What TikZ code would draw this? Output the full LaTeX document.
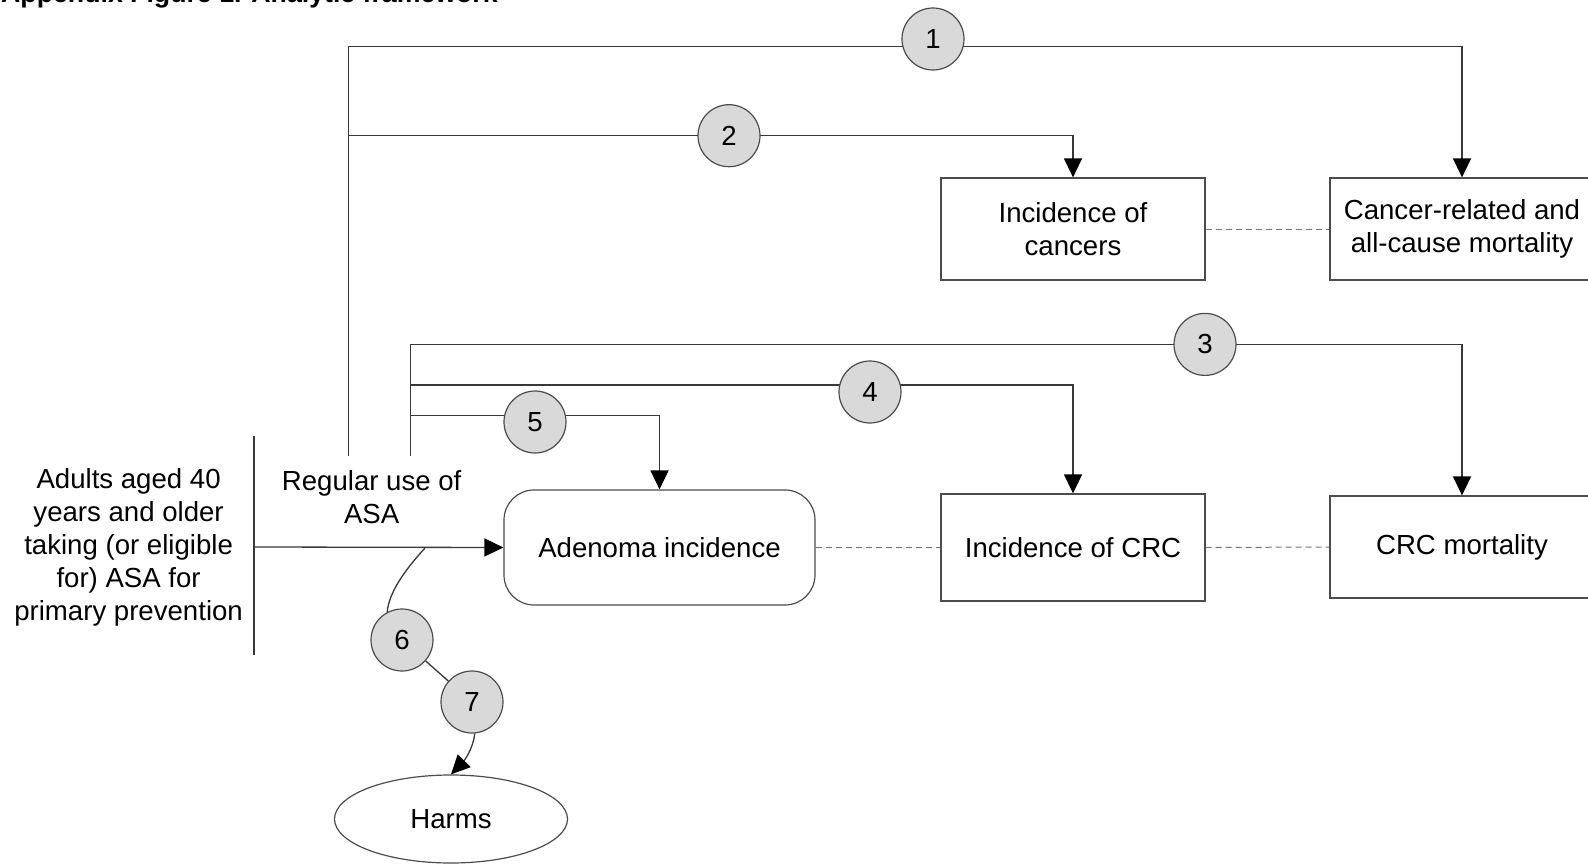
\documentclass[tikz,border=0pt]{standalone}
\usepackage{fontspec}
\setmainfont{Liberation Sans}
\usetikzlibrary{arrows.meta,shapes.geometric,backgrounds}
\begin{document}
\begin{tikzpicture}[x=1pt,y=-1pt,
  conn/.style={draw=black!78, line width=1.3pt},
  arr/.style={conn, -{Triangle[length=19pt,width=18pt,black]}},
  dashlink/.style={draw=black!55, line width=1pt, dash pattern=on 6pt off 4pt},
  txt/.style={font=\fontsize{27.6}{33}\selectfont, align=center, inner sep=0pt},
  box/.style={txt, draw=black!70, line width=1.2pt, minimum width=264pt, minimum height=102pt},
  num/.style={circle, draw=black!70, fill=black!15, line width=1.2pt, minimum size=62pt, inner sep=0pt, font=\fontsize{27.6}{33}\selectfont}
]
\useasboundingbox (0,0) rectangle (1588,864);
\clip (0,0) rectangle (1588,864);

% title (cut off at the top edge, as in the source)
\node[anchor=base west, inner sep=0pt, font=\fontsize{26.7}{30}\selectfont\bfseries] (title) at (1,3) {Appendix Figure 1. Analytic framework};

% boxes
\node[box] (inc) at (1073,229) {Incidence of\\cancers};
\node[box] (mort) at (1462,229) {Cancer-related and\\all-cause mortality};
\node[box, minimum height=107pt] (crc) at (1073,547.5) {Incidence of CRC};
\node[box] (crcm) at (1462,547) {CRC mortality};
\node[txt, draw=black!70, line width=1.2pt, rounded corners=30pt, minimum width=311pt, minimum height=115pt] (aden) at (659.5,547.5) {Adenoma incidence};
\node[txt, ellipse, draw=black!70, line width=1.2pt, minimum width=233pt, minimum height=88pt] (harms) at (451,819) {Harms};

% left texts
\node[txt] (pop) at (128.6,547) {Adults aged 40\\years and older\\taking (or eligible\\for) ASA for\\primary prevention};
\node[txt] (asa) at (371.7,497) {Regular use of\\ASA};

% numbered circles
\node[num] (c1) at (933,39) {1};
\node[num] (c2) at (729,135.7) {2};
\node[num] (c3) at (1205,344.4) {3};
\node[num] (c4) at (870,392) {4};
\node[num] (c5) at (535,422) {5};
\node[num] (c6) at (402,640) {6};
\node[num] (c7) at (472,702) {7};

% junction coordinates
\coordinate (barTop) at (254,435.5);
\coordinate (barBot) at (254,655.3);
\coordinate (barMid) at (254,547);
\coordinate (tA) at (348.4,455.8);
\coordinate (tA1) at (348.4,46.6);
\coordinate (tA2) at (348.4,135.7);
\coordinate (tB) at (410.2,455.8);
\coordinate (tB3) at (410.2,344.4);
\coordinate (tB4) at (410.2,384.9);
\coordinate (tB5) at (410.2,415.2);
\coordinate (h6) at (425,548);

\begin{scope}[on background layer]
  % population bar
  \draw[conn] (barTop) -- (barBot);
  % main arrow
  \draw[arr] (barMid) -- (aden.west);
  % trunks
  \draw[conn] (tA) -- (tA1);
  \draw[conn] (tB) -- (tB3);
  % KQ branches
  \draw[arr] (tA1) -| (mort.north);
  \draw[arr] (tA2) -| (inc.north);
  \draw[arr] (tB3) -| (crcm.north);
  \draw[arr] (tB4) -| (crc.north);
  \draw[arr] (tB5) -| (aden.north);
  % harms path
  \draw[conn] (h6) .. controls (405,570) and (389,592) .. (c6.118);
  \draw[conn] (c6) -- (c7);
  \draw[arr] (c7.-85) .. controls (473,750) and (463,762) .. (harms.north);
  % dashed links
  \draw[dashlink] (inc.east) -- (mort.west);
  \draw[dashlink] (aden.east) -- (crc.west);
  \draw[dashlink] (crc.east) -- (crcm.west);
\end{scope}
\end{tikzpicture}
\end{document}
